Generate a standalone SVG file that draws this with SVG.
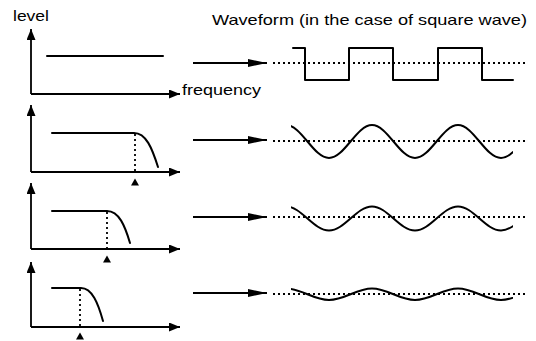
<svg xmlns="http://www.w3.org/2000/svg" width="536" height="341" viewBox="0 0 536 341">
<defs>
<style>
.bg{fill:#fff}
.axis{stroke:#000;stroke-width:1.8;fill:none}
.curve{stroke:#000;stroke-width:2;fill:none;stroke-linecap:round;stroke-linejoin:round}
.dot{stroke:#000;stroke-width:1.8;fill:none;stroke-dasharray:2,3}
.tri{fill:#000}
.lbl{font-family:"Liberation Sans",Arial,sans-serif;font-size:15px;fill:#000}
.conn{stroke:#000;stroke-width:2;fill:none}
</style>
<marker id="ah" viewBox="0 0 11 9" refX="11" refY="4.5" markerWidth="11" markerHeight="9" markerUnits="userSpaceOnUse" orient="auto">
<path d="M0,0 L11,4.5 L0,9 Z" fill="#000"/>
</marker>
<marker id="ah2" viewBox="0 0 19 8" refX="19" refY="4" markerWidth="19" markerHeight="8" markerUnits="userSpaceOnUse" orient="auto">
<path d="M0,0 L19,4 L0,8 Z" fill="#000"/>
</marker>
<clipPath id="wclip"><rect x="291" y="0" width="222" height="341"/></clipPath>
</defs>
<rect class="bg" x="0" y="0" width="536" height="341"/>

<text class="lbl" x="13" y="21" textLength="36" lengthAdjust="spacingAndGlyphs">level</text>
<text class="lbl" x="212" y="25" textLength="315" lengthAdjust="spacingAndGlyphs">Waveform (in the case of square wave)</text>

<g id="panel1">
<path class="axis" d="M31,94 V29" marker-end="url(#ah)"/>
<path class="axis" d="M31,94 H180" marker-end="url(#ah)"/>
<path class="curve" d="M47,56 H163"/>
<text class="lbl" x="182" y="95" textLength="79" lengthAdjust="spacingAndGlyphs">frequency</text>
</g>

<g id="panel2">
<path class="axis" d="M31,172 V105" marker-end="url(#ah)"/>
<path class="axis" d="M31,172 H180" marker-end="url(#ah)"/>
<path class="curve" d="M52,133 H134 C146,133 152,148 158,167"/>
<path class="dot" d="M135,134 V172"/>
<path class="tri" d="M135,178.5 L139,185.5 L131,185.5 Z"/>
</g>

<g id="panel3">
<path class="axis" d="M31,249 V183" marker-end="url(#ah)"/>
<path class="axis" d="M31,249 H180" marker-end="url(#ah)"/>
<path class="curve" d="M52,211 H107 C119,211 125,226 130,243"/>
<path class="dot" d="M107,212 V249"/>
<path class="tri" d="M107,255.5 L111,262.5 L103,262.5 Z"/>
</g>

<g id="panel4">
<path class="axis" d="M31,327 V262" marker-end="url(#ah)"/>
<path class="axis" d="M31,327 H180" marker-end="url(#ah)"/>
<path class="curve" d="M52,288 H81 C92,288 98,303 103,321"/>
<path class="dot" d="M80,289 V327"/>
<path class="tri" d="M80,332.5 L84,339.5 L76,339.5 Z"/>
</g>

<g id="wave1">
<path class="dot" d="M273,63 H528"/>
<path class="curve" d="M293,48 H305 V80 H349 V48 H393 V80 H438 V48 H482 V80 H513"/>
</g>

<g id="wave2">
<path class="dot" d="M273,141 H528"/>
<path class="curve" clip-path="url(#wclip)" d="M286,125 C301.6,125 313.4,158 329,158 C344.6,158 356.4,125 372,125 C387.6,125 399.4,158 415,158 C430.6,158 442.4,125 458,125 C473.6,125 485.4,158 501,158 C516.6,158 528.4,125 544,125"/>
</g>

<g id="wave3">
<path class="dot" d="M273,217 H528"/>
<path class="curve" clip-path="url(#wclip)" d="M286,206.5 C301.6,206.5 313.4,230.5 329,230.5 C344.6,230.5 356.4,206.5 372,206.5 C387.6,206.5 399.4,230.5 415,230.5 C430.6,230.5 442.4,206.5 458,206.5 C473.6,206.5 485.4,230.5 501,230.5 C516.6,230.5 528.4,206.5 544,206.5"/>
</g>

<g id="wave4">
<path class="dot" d="M273,294 H528"/>
<path class="curve" clip-path="url(#wclip)" d="M286,288.5 C301.6,288.5 313.4,300 329,300 C344.6,300 356.4,288.5 372,288.5 C387.6,288.5 399.4,300 415,300 C430.6,300 442.4,288.5 458,288.5 C473.6,288.5 485.4,300 501,300 C516.6,300 528.4,288.5 544,288.5"/>
</g>

<g id="connectors">
<path class="conn" d="M193,63 H267" marker-end="url(#ah2)"/>
<path class="conn" d="M193,140 H267" marker-end="url(#ah2)"/>
<path class="conn" d="M193,217 H267" marker-end="url(#ah2)"/>
<path class="conn" d="M193,293 H267" marker-end="url(#ah2)"/>
</g>
</svg>
